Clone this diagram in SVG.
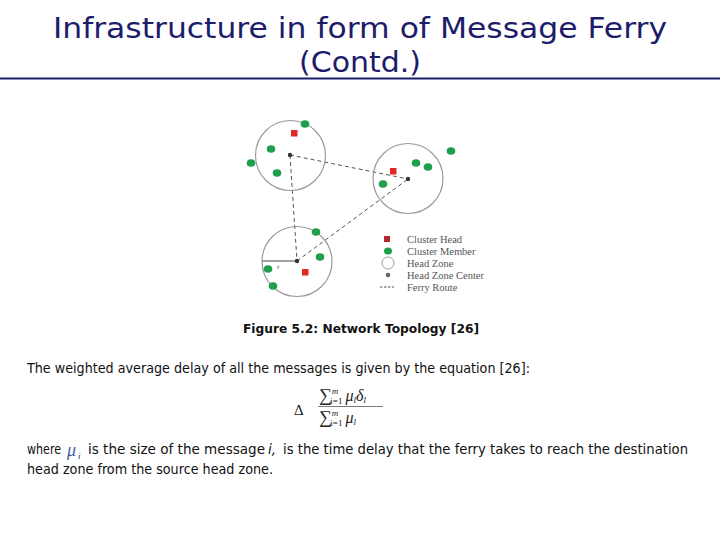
<svg xmlns="http://www.w3.org/2000/svg" width="720" height="540" viewBox="0 0 720 540">
<defs>
<style>
.title{font-family:"DejaVu Sans","Liberation Sans",sans-serif;font-size:29px;fill:#1c1c6a;}
.zone{fill:none;stroke:#9a9a9a;stroke-width:1.2;}
.route{fill:none;stroke:#555;stroke-width:1;stroke-dasharray:4 3;}
.head{fill:#e02828;}
.member{fill:#1f9e4c;}
.center{fill:#333;}
.leg{font-family:"Liberation Serif",serif;font-size:10.5px;fill:#555;}
.body{font-family:"DejaVu Sans","Liberation Sans",sans-serif;font-size:13.5px;fill:#111;}
.cap{font-family:"DejaVu Sans","Liberation Sans",sans-serif;font-size:13px;font-weight:bold;fill:#111;}
.math{font-family:"Liberation Serif","DejaVu Serif",serif;fill:#222;}
</style>
</defs>
<rect width="720" height="540" fill="#fff"/>
<g id="title">
<text class="title" x="360" y="38" text-anchor="middle" textLength="614" lengthAdjust="spacingAndGlyphs">Infrastructure in form of Message Ferry</text>
<text class="title" x="360" y="72" text-anchor="middle" textLength="122" lengthAdjust="spacingAndGlyphs">(Contd.)</text>
<line x1="0" y1="78.5" x2="720" y2="78.5" stroke="#1c1c6a" stroke-width="2"/>
</g>
<g id="connectors">
<line class="route" x1="290" y1="155" x2="408" y2="179"/>
<line class="route" x1="290" y1="155" x2="297" y2="261"/>
<line class="route" x1="297" y1="261" x2="408" y2="179"/>
<line x1="262" y1="261" x2="297" y2="261" stroke="#444" stroke-width="1.2"/>
</g>
<g id="zone1">
<circle class="zone" cx="290.5" cy="155.5" r="35"/>
<rect class="head" x="291" y="130" width="6.5" height="6.5"/>
<ellipse class="member" cx="305" cy="124" rx="4.3" ry="3.8"/>
<ellipse class="member" cx="271" cy="149" rx="4.3" ry="3.8"/>
<ellipse class="member" cx="251" cy="163" rx="4.3" ry="3.8"/>
<ellipse class="member" cx="277" cy="173" rx="4.3" ry="3.8"/>
<circle class="center" cx="290" cy="155" r="2.2"/>
</g>
<g id="zone2">
<circle class="zone" cx="408" cy="178.5" r="35"/>
<rect class="head" x="390" y="168" width="6.5" height="6.5"/>
<ellipse class="member" cx="416" cy="163" rx="4.3" ry="3.8"/>
<ellipse class="member" cx="428" cy="167" rx="4.3" ry="3.8"/>
<ellipse class="member" cx="451" cy="151" rx="4.3" ry="3.8"/>
<ellipse class="member" cx="383" cy="184" rx="4.3" ry="3.8"/>
<circle class="center" cx="408" cy="179" r="2.2"/>
</g>
<g id="zone3">
<circle class="zone" cx="297" cy="261.5" r="35"/>
<rect class="head" x="302" y="269" width="6.5" height="6.5"/>
<ellipse class="member" cx="316" cy="232" rx="4.3" ry="3.8"/>
<ellipse class="member" cx="320" cy="257" rx="4.3" ry="3.8"/>
<ellipse class="member" cx="268" cy="269" rx="4.3" ry="3.8"/>
<ellipse class="member" cx="273" cy="286" rx="4.3" ry="3.8"/>
<circle class="center" cx="297" cy="261" r="2.2"/>
<text x="277" y="269" font-family="Liberation Serif,serif" font-style="italic" font-size="7" fill="#333">r</text>
</g>
<g id="legend">
<rect x="384" y="236" width="6" height="6" fill="#b02830"/>
<ellipse class="member" cx="388" cy="251" rx="4" ry="3.6"/>
<circle cx="388" cy="263" r="6" fill="#fff" stroke="#888" stroke-width="0.8"/>
<circle cx="388" cy="275" r="2.3" fill="#666"/>
<line x1="380" y1="287" x2="394" y2="287" stroke="#555" stroke-width="1" stroke-dasharray="2.5 1.5"/>
<text class="leg" x="407" y="243">Cluster Head</text>
<text class="leg" x="407" y="255">Cluster Member</text>
<text class="leg" x="407" y="267">Head Zone</text>
<text class="leg" x="407" y="279">Head Zone Center</text>
<text class="leg" x="407" y="291">Ferry Route</text>
</g>
<g id="caption">
<text class="cap" x="243" y="333" textLength="236" lengthAdjust="spacingAndGlyphs">Figure 5.2: Network Topology [26]</text>
</g>
<g id="text">
<text class="body" x="27" y="373" textLength="503" lengthAdjust="spacingAndGlyphs">The weighted average delay of all the messages is given by the equation [26]:</text>
<text class="math" x="294" y="415" font-size="15">Δ</text>
<text class="math" x="319" y="401" font-size="18">∑<tspan font-size="9" dy="-7" font-style="italic">m</tspan><tspan font-size="9" dx="-8" dy="10">i=1</tspan><tspan font-size="16" font-style="italic" dx="3" dy="-3">μ</tspan><tspan font-size="9" font-style="italic" dy="2">l</tspan><tspan font-size="16" font-style="italic" dy="-2">δ</tspan><tspan font-size="9" font-style="italic" dy="2">l</tspan></text>
<line x1="318" y1="406.5" x2="383" y2="406.5" stroke="#444" stroke-width="0.7"/>
<text class="math" x="319" y="423" font-size="18">∑<tspan font-size="9" dy="-7" font-style="italic">m</tspan><tspan font-size="9" dx="-8" dy="10">i=1</tspan><tspan font-size="16" font-style="italic" dx="3" dy="-3">μ</tspan><tspan font-size="9" font-style="italic" dy="2">l</tspan></text>
<text class="body" x="27" y="454" textLength="34" lengthAdjust="spacingAndGlyphs">where</text>
<text x="67" y="456" font-family="Liberation Serif,serif" font-style="italic" font-size="18" fill="#3a5fa0">μ</text>
<text x="78" y="459" font-family="Liberation Serif,serif" font-style="italic" font-size="9" fill="#1a3a70">i</text>
<text class="body" x="88" y="454" textLength="177" lengthAdjust="spacingAndGlyphs">is the size of the message</text>
<text class="body" x="268" y="454" font-style="italic">i,</text>
<text class="body" x="283" y="454" textLength="405" lengthAdjust="spacingAndGlyphs">is the time delay that the ferry takes to reach the destination</text>
<text class="body" x="27" y="474" textLength="246" lengthAdjust="spacingAndGlyphs">head zone from the source head zone.</text>
</g>
</svg>
